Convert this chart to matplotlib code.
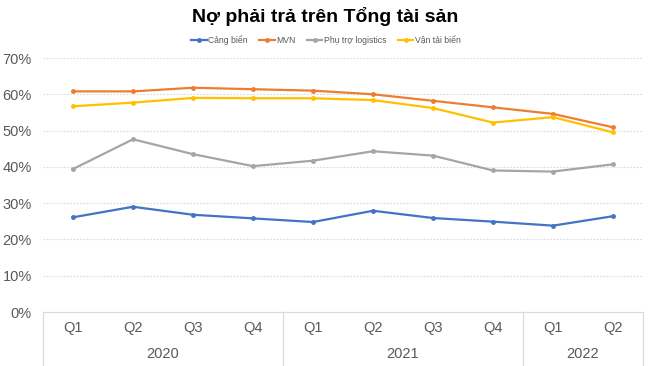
import matplotlib
matplotlib.use("Agg")
import matplotlib.pyplot as plt
import matplotlib.transforms as mtransforms
from matplotlib.ticker import PercentFormatter

plt.rcParams['font.family'] = ['Liberation Sans', 'DejaVu Sans']

quarters = ["Q1", "Q2", "Q3", "Q4", "Q1", "Q2", "Q3", "Q4", "Q1", "Q2"]
years = ["2020", "2021", "2022"]
year_counts = [4, 4, 2]

series_names = ["Cảng biển", "MVN", "Phụ trợ logistics", "Vận tải biển"]
cang_bien = [26.1, 29.0, 26.8, 25.8, 24.8, 27.9, 25.9, 24.9, 23.8, 26.4]
mvn = [60.8, 60.8, 61.8, 61.4, 61.0, 60.0, 58.2, 56.4, 54.6, 50.9]
phu_tro = [39.4, 47.6, 43.5, 40.2, 41.7, 44.3, 43.1, 39.0, 38.7, 40.7]
van_tai = [56.7, 57.7, 59.0, 58.9, 58.9, 58.4, 56.2, 52.2, 53.7, 49.5]
colors = ["#4472C4", "#ED7D31", "#A5A5A5", "#FFC000"]

fig = plt.figure(figsize=(6.5, 3.66), dpi=100)
ax = fig.add_axes([43/650, 1-312/366, 600/650, 254/366])

x = list(range(len(quarters)))
for name, vals, c in zip(series_names, [cang_bien, mvn, phu_tro, van_tai], colors):
    ax.plot(x, vals, color=c, lw=1.6, marker='o', ms=2.5, label=name)

ax.set_xlim(-0.5, len(quarters) - 0.5)
ax.set_ylim(0, 70)
ax.set_yticks(range(0, 71, 10))
ax.yaxis.set_major_formatter(PercentFormatter(decimals=0))
ax.tick_params(axis='y', length=0, labelsize=10.5, labelcolor='#595959', pad=8)
ax.set_xticks([])
ax.grid(axis='y', color='#D9D9D9', lw=0.8, ls=(0, (1.5, 1.5)))
ax.set_axisbelow(True)
for s in ['top', 'right', 'left']:
    ax.spines[s].set_visible(False)
ax.spines['bottom'].set_color('#D9D9D9')

trans = mtransforms.blended_transform_factory(ax.transData, ax.transAxes)
for i, q in enumerate(quarters):
    ax.text(i, -16/254, q, transform=trans, ha='center', va='center',
            fontsize=10.5, color='#595959')
start = 0
bounds = [-0.5]
for y, n in zip(years, year_counts):
    mid = start + (n - 1) / 2
    ax.text(mid, -42/254, y, transform=trans, ha='center', va='center',
            fontsize=10.5, color='#595959')
    start += n
    bounds.append(start - 0.5)
for b in bounds:
    ax.plot([b, b], [0, -54/254], transform=trans, color='#D9D9D9', lw=0.8,
            clip_on=False)

fig.text(0.5, 1-17/366, "Nợ phải trả trên Tổng tài sản", ha='center', va='center',
         fontsize=14, fontweight='bold', color='#000000')
fig.legend(loc='center', bbox_to_anchor=(326/650, 1-40/366), ncol=4, frameon=False,
           fontsize=6.2, handlelength=1.8, columnspacing=1.3, handletextpad=0.2,
           labelcolor='#595959')

fig.savefig("out.png", dpi=100)
